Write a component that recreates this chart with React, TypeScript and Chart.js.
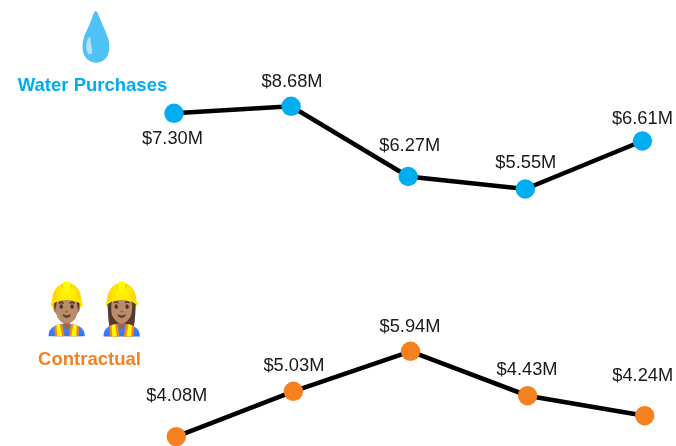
import React, { useEffect, useRef } from "react";
import { Chart, registerables, type Plugin } from "chart.js";

Chart.register(...registerables);

// Marks sit at hand-placed heights in the source, so heights and printed amounts are kept apart.
const waterHeights = [332.7, 339.7, 269.5, 257, 305];
const waterLabels = ["$7.30M", "$8.68M", "$6.27M", "$5.55M", "$6.61M"];
const waterLabelOffsets = [25.5, -24.5, -30.5, -26, -22];
const waterLabelShift = [-1.5, 1, 1.5, 0.5, 0];
const contractHeights = [9.3, 54.7, 94.7, 50.3, 30.3];
const contractLabels = ["$4.08M", "$5.03M", "$5.94M", "$4.43M", "$4.24M"];
const contractLabelOffsets = [-41, -25, -24, -26, -39.5];
const contractLabelShift = [0.5, 0.5, -0.5, -0.5, -2];
const positions = [0, 1, 2, 3, 4];

const BLUE = "#00ADEF";
const ORANGE = "#F68121";
const FONT = '"Liberation Sans", Arial, sans-serif';
const EMOJI = '"Noto Color Emoji", "Apple Color Emoji", "Noto Sans", sans-serif';

function squeezedEmoji(ctx: CanvasRenderingContext2D, text: string, cx: number, baseline: number, size: number, sx: number) {
  ctx.save();
  ctx.translate(cx, baseline);
  ctx.scale(sx, 1);
  ctx.font = `${size}px ${EMOJI}`;
  ctx.fillText(text, 0, 0);
  ctx.restore();
}

const labelPlugin: Plugin<"line"> = {
  id: "pointLabels",
  afterDatasetsDraw(chart) {
    const ctx = chart.ctx;
    ctx.save();
    ctx.fillStyle = "#1a1a1a";
    ctx.font = `18.3px ${FONT}`;
    ctx.textAlign = "center";
    ctx.textBaseline = "middle";
    const sets = [
      { labels: waterLabels, offsets: waterLabelOffsets, shift: waterLabelShift },
      { labels: contractLabels, offsets: contractLabelOffsets, shift: contractLabelShift },
    ];
    sets.forEach((s, d) => {
      chart.getDatasetMeta(d).data.forEach((p, i) => {
        ctx.fillText(s.labels[i], p.x + s.shift[i], p.y + s.offsets[i]);
      });
    });
    ctx.font = `bold 18.5px ${FONT}`;
    ctx.fillStyle = BLUE;
    ctx.fillText("Water Purchases", 92.5, 85.5);
    ctx.fillStyle = ORANGE;
    ctx.fillText("Contractual", 89.5, 360);
    ctx.textBaseline = "alphabetic";
    ctx.fillStyle = "#000";
    squeezedEmoji(ctx, "💧", 96.5, 52.5, 47, 0.85);
    squeezedEmoji(ctx, "👷🏽‍♂️", 67, 325.5, 50, 0.76);
    squeezedEmoji(ctx, "👷🏽‍♀️", 122, 325.5, 50, 0.76);
    ctx.restore();
  },
};

export default function App() {
  const ref = useRef<HTMLCanvasElement>(null);
  useEffect(() => {
    document.body.style.margin = "0";
    const chart = new Chart(ref.current!, {
      type: "line",
      plugins: [labelPlugin],
      data: {
        datasets: [
          {
            data: positions.map((x, i) => ({ x, y: waterHeights[i] })),
            xAxisID: "x",
            yAxisID: "y",
            borderColor: "#000",
            borderWidth: 4.5,
            pointRadius: 9.7,
            pointBackgroundColor: BLUE,
            pointBorderColor: BLUE,
            pointBorderWidth: 0,
            tension: 0,
            clip: false,
          },
          {
            data: positions.map((x, i) => ({ x, y: contractHeights[i] })),
            xAxisID: "x2",
            yAxisID: "y2",
            borderColor: "#000",
            borderWidth: 4.5,
            pointRadius: 9.7,
            pointBackgroundColor: ORANGE,
            pointBorderColor: ORANGE,
            pointBorderWidth: 0,
            tension: 0,
            clip: false,
          },
        ],
      },
      options: {
        animation: false,
        responsive: false,
        layout: { padding: 0, autoPadding: false },
        plugins: { legend: { display: false }, tooltip: { enabled: false } },
        scales: {
          x: { type: "linear", display: false, min: -174 / 117.1, max: (676 - 174) / 117.1 },
          x2: { type: "linear", display: false, min: -176.3 / 117.1, max: (676 - 176.3) / 117.1 },
          y: { type: "linear", display: false, min: 0, max: 446 },
          y2: { type: "linear", display: false, min: 0, max: 446 },
        },
      },
    });
    return () => chart.destroy();
  }, []);
  return <canvas ref={ref} width={676} height={446} style={{ display: "block" }} />;
}
